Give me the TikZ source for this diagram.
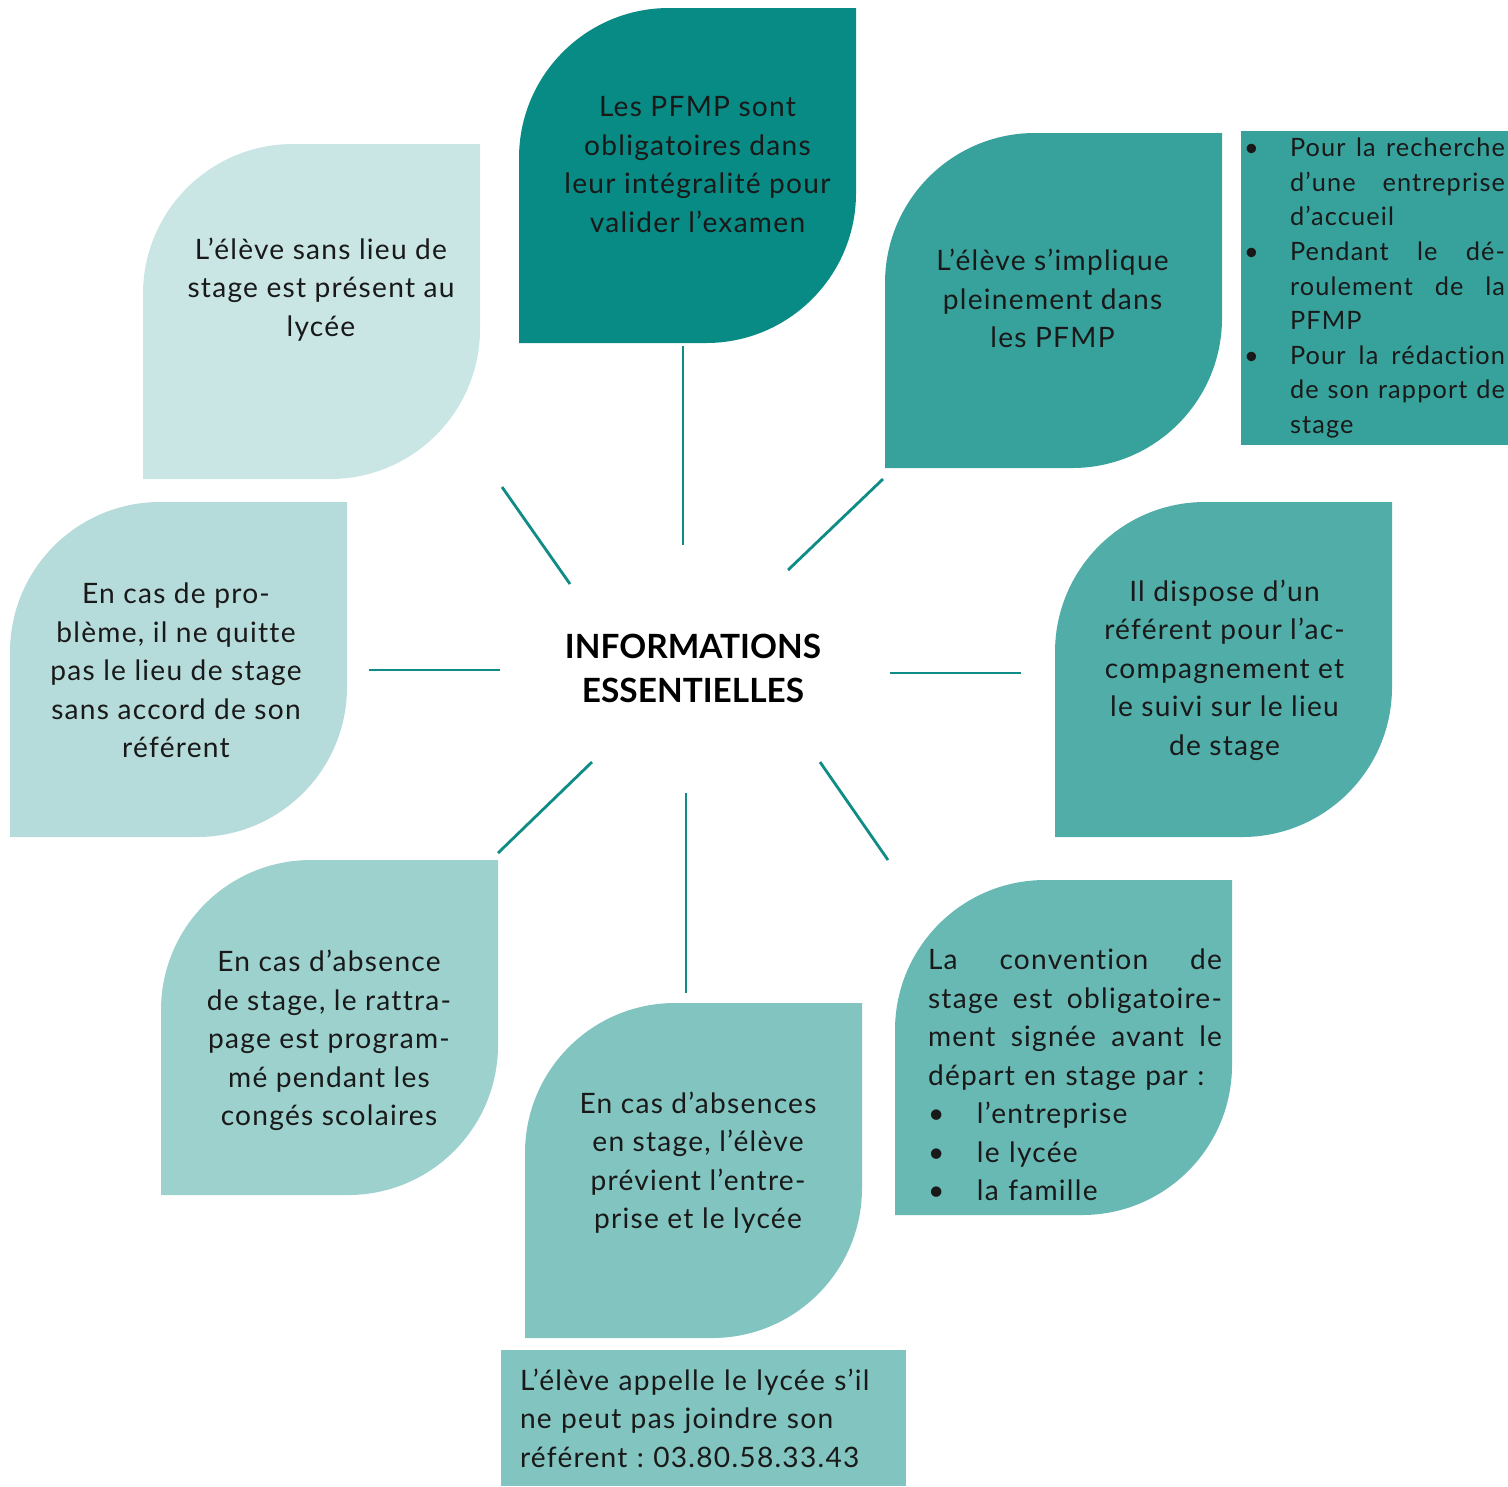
\documentclass[tikz,border=0pt]{standalone}
\usepackage{fontspec}
\setmainfont{Lato}[LetterSpace=4.5, Ligatures=NoCommon]
\newfontfamily\titlefont{Lato}
\definecolor{pfmpteal}{HTML}{088B84}
\definecolor{spokecol}{HTML}{0E8C85}
\colorlet{leafA}{pfmpteal}
\colorlet{leafB}{pfmpteal!81!white}
\colorlet{leafC}{pfmpteal!71!white}
\colorlet{leafD}{pfmpteal!61!white}
\colorlet{leafE}{pfmpteal!51!white}
\colorlet{leafF}{pfmpteal!40!white}
\colorlet{leafG}{pfmpteal!30!white}
\colorlet{leafH}{pfmpteal!22!white}
\tikzset{
	leaftext/.style={align=center, inner sep=0pt, text=black!90, font=\fontsize{8}{10.95}\selectfont\frenchspacing},
	infobox/.style={fill=#1, inner sep=0pt, align=left, text=black!90},
	spoke/.style={draw=spokecol, line width=0.8pt}
}
\begin{document}
\begin{tikzpicture}
	\useasboundingbox (0,0) rectangle (15.08,-14.86);
	\foreach \x/\y/\c in {5.19/-0.08/leafA, 8.85/-1.33/leafB, 10.55/-5.02/leafC, 8.95/-8.80/leafD, 5.25/-10.03/leafE, 1.61/-8.60/leafF, 0.10/-5.02/leafG, 1.43/-1.44/leafH}
		\fill [\c] (\x,\y-3.35) -- (\x,\y-1.5) arc [start angle=180, end angle=90, radius=1.5] -- (\x+3.37,\y) -- (\x+3.37,\y-1.85) arc [start angle=0, end angle=-90, radius=1.5] -- cycle;

	\node [font=\fontsize{9.5}{12.5}\selectfont\titlefont\bfseries, align=center] (info) at (6.93,-6.68) {INFORMATIONS\\ESSENTIELLES};

	\node [leaftext] (pfmp) at (6.975,-1.645) {Les PFMP sont\\obligatoires dans\\leur intégralité pour\\valider l’examen};
	\node [leaftext] (implique) at (10.525,-2.985) {L’élève s’implique\\pleinement dans\\les PFMP};
	\node [leaftext] (referent) at (12.245,-6.70) {Il dispose d’un\\référent pour l’ac-\\compagnement et\\le suivi sur le lieu\\de stage};
	\node [leaftext, align=left, text width=2.94cm] (convention) at (10.75,-10.75) {\makebox[2.94cm][s]{La\hfill convention\hfill de}\\\makebox[2.94cm][s]{stage\hfill est\hfill obligatoire-}\\\makebox[2.94cm][s]{ment\hfill signée\hfill avant\hfill le}\\départ en stage par :\\\makebox[.49cm][l]{\textbullet}l’entreprise\\\makebox[.49cm][l]{\textbullet}le lycée\\\makebox[.49cm][l]{\textbullet}la famille};
	\node [leaftext] (absences) at (6.98,-11.625) {En cas d’absences\\en stage, l’élève\\prévient l’entre-\\prise et le lycée};
	\node [leaftext] (rattrapage) at (3.29,-10.405) {En cas d’absence\\de stage, le rattra-\\page est program-\\mé pendant les\\congés scolaires};
	\node [leaftext] (probleme) at (1.76,-6.705) {En cas de pro-\\blème, il ne quitte\\pas le lieu de stage\\sans accord de son\\référent};
	\node [leaftext] (sanslieu) at (3.21,-2.895) {L’élève sans lieu de\\stage est présent au\\lycée};

	\node [infobox=leafB, minimum width=2.67cm, minimum height=3.14cm, text width=2.61cm, font=\fontsize{7.2}{9.85}\selectfont\frenchspacing] (moments) at (13.745,-2.88) {\makebox[.46cm][l]{\textbullet}\makebox[2.15cm][s]{Pour\hfill la\hfill recherche}\\\hspace*{.46cm}\makebox[2.15cm][s]{d’une\hfill entreprise}\\\hspace*{.46cm}d’accueil\\\makebox[.46cm][l]{\textbullet}\makebox[2.15cm][s]{Pendant\hfill le\hfill dé-}\\\hspace*{.46cm}\makebox[2.15cm][s]{roulement\hfill de\hfill la}\\\hspace*{.46cm}PFMP\\\makebox[.46cm][l]{\textbullet}\makebox[2.15cm][s]{Pour\hfill la\hfill rédaction}\\\hspace*{.46cm}\makebox[2.15cm][s]{de\hfill son\hfill rapport\hfill de}\\\hspace*{.46cm}stage};
	\node [infobox=leafE, minimum width=4.05cm, minimum height=1.36cm, text width=3.67cm, font=\fontsize{8}{10.95}\selectfont\frenchspacing] (appel) at (7.035,-14.18) {L’élève appelle le lycée s’il\\ne peut pas joindre son\\référent : 03.80.58.33.43};

	\coordinate (n1) at (6.83,-3.46);
	\coordinate (m1) at (6.83,-5.45);
	\coordinate (n2) at (8.83,-4.79);
	\coordinate (m2) at (7.88,-5.70);
	\coordinate (n3) at (10.21,-6.73);
	\coordinate (m3) at (8.90,-6.73);
	\coordinate (n4) at (8.88,-8.60);
	\coordinate (m4) at (8.20,-7.62);
	\coordinate (n5) at (6.86,-9.93);
	\coordinate (m5) at (6.86,-7.93);
	\coordinate (n6) at (4.98,-8.53);
	\coordinate (m6) at (5.92,-7.62);
	\coordinate (n7) at (3.69,-6.70);
	\coordinate (m7) at (5.00,-6.70);
	\coordinate (n8) at (5.02,-4.87);
	\coordinate (m8) at (5.70,-5.84);
	\foreach \i in {1,...,8}
		\draw [spoke] (n\i) -- (m\i);
\end{tikzpicture}
\end{document}
